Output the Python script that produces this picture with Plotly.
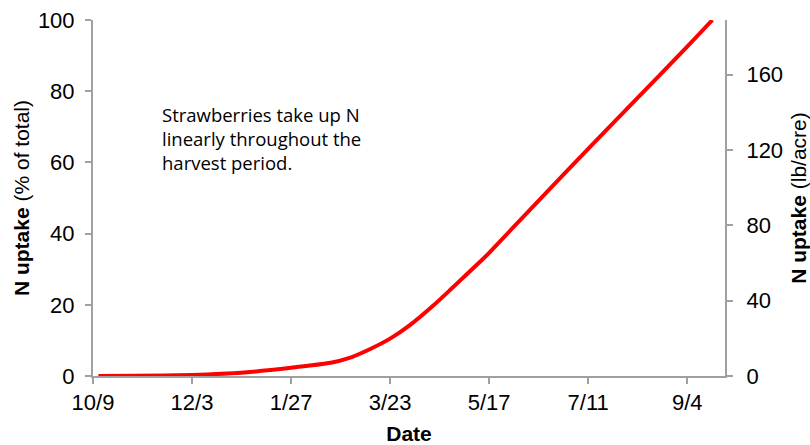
import plotly.graph_objects as go

dates = ["2012-10-12", "2012-11-01", "2012-12-03", "2013-01-01", "2013-01-27",
         "2013-02-18", "2013-02-28", "2013-03-12", "2013-03-23", "2013-04-03",
         "2013-04-16", "2013-04-25", "2013-05-04", "2013-05-13", "2013-05-17",
         "2013-06-13", "2013-07-11", "2013-08-08", "2013-09-04", "2013-09-18"]
uptake_pct = [0.0, 0.05, 0.3, 1.0, 2.3,
              3.7, 5.0, 7.6, 10.5, 14.3,
              19.8, 24.0, 28.3, 32.6, 34.6,
              49.0, 63.8, 78.4, 92.5, 100.0]

left_ticks = [0, 20, 40, 60, 80, 100]
right_ticks = [0, 40, 80, 120, 160]
right_max = 189
x_start, x_end = "2012-10-09", "2013-09-25"

note_text = "Strawberries take up N<br>linearly throughout the<br>harvest period."

axis_grey = "#a0a0a0"
tick_font = dict(family="Arial", size=22, color="black")
title_font = dict(family="Arial", size=21, color="black")

fig = go.Figure()
fig.add_trace(go.Scatter(x=dates, y=uptake_pct, mode="lines",
                         line=dict(color="#ff0000", width=4, shape="spline", smoothing=0.6),
                         showlegend=False, hoverinfo="skip"))
fig.add_trace(go.Scatter(x=[None], y=[None], yaxis="y2", showlegend=False, hoverinfo="skip"))

common = dict(showgrid=False, zeroline=False, showline=True, linecolor=axis_grey, linewidth=2,
              ticks="outside", ticklen=6, tickcolor=axis_grey, tickwidth=2, tickfont=tick_font,
              automargin=False)

fig.update_layout(
    width=810, height=445,
    margin=dict(l=93, r=85, t=20, b=69),
    plot_bgcolor="white", paper_bgcolor="white",
    xaxis=dict(type="date", range=[x_start, x_end], tick0=x_start, dtick=55 * 86400000,
               tickformat="%-m/%-d", **common,
               title=dict(text="<b>Date</b>", font=title_font, standoff=14)),
    yaxis=dict(range=[0, 100], tickvals=left_ticks, ticklabelstandoff=6, **common,
               title=dict(text="<b>N uptake</b> (% of total)", font=title_font, standoff=3)),
    yaxis2=dict(range=[0, right_max], tickvals=right_ticks, overlaying="y", side="right",
                ticklabelstandoff=9, **common,
                title=dict(text="<b>N uptake</b> (lb/acre)", font=title_font, standoff=15)),
    annotations=[dict(text=note_text, xref="paper", yref="paper", x=0.106, y=0.775, xanchor="left",
                      yanchor="top", align="left", showarrow=False,
                      font=dict(family="Open Sans", size=18.5, color="black"))],
)

fig.write_html("out.html")
